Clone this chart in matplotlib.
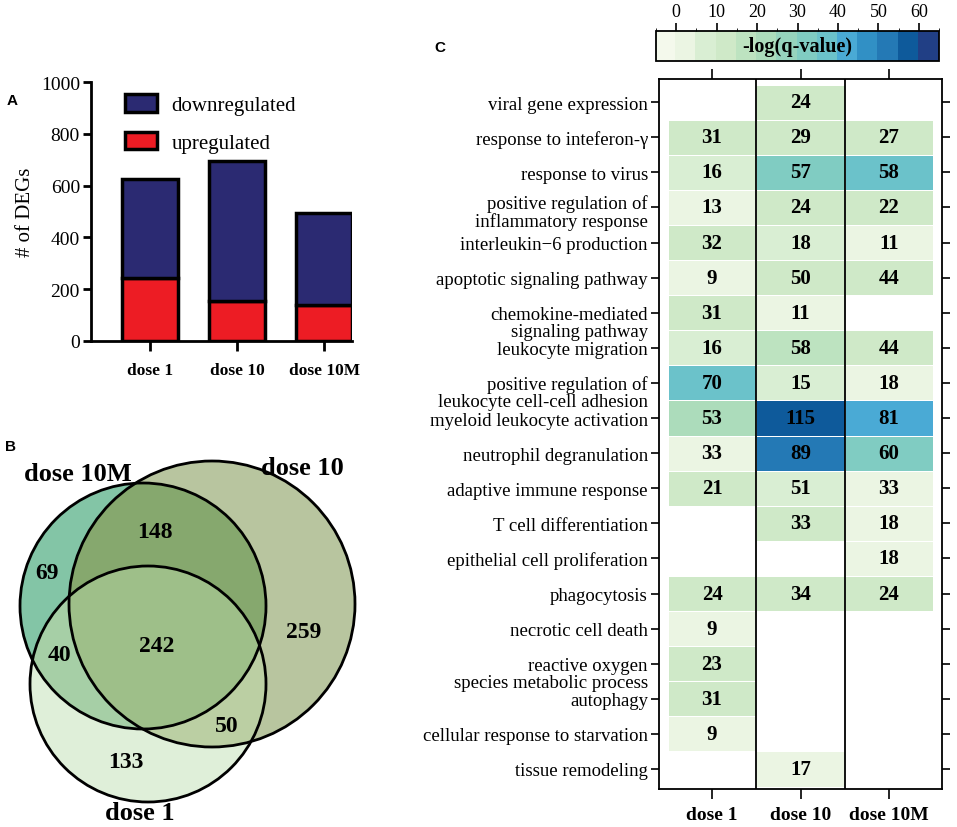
import numpy as np
import matplotlib
matplotlib.use("Agg")
import matplotlib.pyplot as plt
import matplotlib.transforms as mtransforms
from matplotlib.colors import ListedColormap, BoundaryNorm, to_rgb
from matplotlib.patches import Circle

plt.rcParams['font.family'] = ["Liberation Serif", "DejaVu Serif"]
plt.rcParams['mathtext.fontset'] = "dejavuserif"

# ---- panel A data
doses = ["dose 1", "dose 10", "dose 10M"]
up = [245, 155, 140]
total = [625, 695, 495]
down = [t - u for t, u in zip(total, up)]

# ---- panel B data (venn region counts)
venn_sets = ["dose 10M", "dose 10", "dose 1"]
n_10M_only = 69
n_10_only = 259
n_1_only = 133
n_10M_10 = 148
n_10M_1 = 40
n_10_1 = 50
n_all = 242

# ---- panel C data
terms = ["viral gene expression", "response to inteferon-γ", "response to virus",
         "positive regulation of\ninflammatory response", "interleukin\u22126 production",
         "apoptotic signaling pathway", "chemokine-mediated\nsignaling pathway",
         "leukocyte migration", "positive regulation of\nleukocyte cell-cell adhesion",
         "myeloid leukocyte activation", "neutrophil degranulation",
         "adaptive immune response", "T cell differentiation",
         "epithelial cell proliferation", "phagocytosis", "necrotic cell death",
         "reactive oxygen\nspecies metabolic process", "autophagy",
         "cellular response to starvation", "tissue remodeling"]
nan = np.nan
# gene counts shown in the cells
count_d1 = [nan, 31, 16, 13, 32, 9, 31, 16, 70, 53, 33, 21, nan, nan, 24, 9, 23, 31, 9, nan]
count_d10 = [24, 29, 57, 24, 18, 50, 11, 58, 15, 115, 89, 51, 33, nan, 34, nan, nan, nan, nan, 17]
count_d10M = [nan, 27, 58, 22, 11, 44, nan, 44, 18, 81, 60, 33, 18, 18, 24, nan, nan, nan, nan, nan]
# -log(q-value)
logq_d1 = [nan, 12, 7, 3, 12, 3, 10, 8, 37, 22, 3, 12, nan, nan, 10, 3, 10, 12, 3, nan]
logq_d10 = [10, 12, 32, 12, 8, 12, 3, 17, 8, 57, 52, 8, 12, nan, 10, nan, nan, nan, nan, 3]
logq_d10M = [nan, 12, 37, 12, 3, 12, nan, 12, 3, 42, 32, 3, 3, 3, 10, nan, nan, nan, nan, nan]

fig = plt.figure(figsize=(9.57, 8.28), dpi=100)

# overlay in pixel coordinates for the venn diagram and panel letters
ov = fig.add_axes([0, 0, 1, 1])
ov.set_xlim(0, 957)
ov.set_ylim(828, 0)
ov.axis("off")

# ================= A: stacked bars
axA = fig.add_axes([91 / 957, 1 - 342 / 828, 261 / 957, 259 / 828])
x = np.arange(len(doses))
navy = "#2b2a72"
red = "#ed1c24"
axA.bar(x, up, width=0.64, color=red, edgecolor="black", linewidth=2.5, label="upregulated", zorder=3)
axA.bar(x, down, bottom=up, width=0.64, color=navy, edgecolor="black", linewidth=2.5,
        label="downregulated", zorder=3)
axA.set_xlim(-0.68, 2.32)
axA.set_ylim(0, 1000)
axA.set_yticks(range(0, 1001, 200))
axA.set_xticks(x)
axA.set_xticklabels(doses, fontweight="bold", fontsize=12.5)
axA.tick_params(axis="y", labelsize=14, width=2, length=6, pad=2)
axA.tick_params(axis="x", width=2, length=7, pad=8)
for s in ["top", "right"]:
    axA.spines[s].set_visible(False)
for s in ["left", "bottom"]:
    axA.spines[s].set_linewidth(2)
axA.set_ylabel("# of DEGs", fontsize=15, labelpad=4)
h, l = axA.get_legend_handles_labels()
leg = axA.legend(h[::-1], l[::-1], loc="upper left", bbox_to_anchor=(0.06, 1.025), frameon=False,
                 fontsize=15, handlelength=1.5, handleheight=0.9, handletextpad=0.7,
                 labelspacing=0.8)

# ================= B: venn
c10M = (143, 607, 123)
c10 = (212, 605, 143)
c1 = (148, 685, 118)
gx, gy = np.meshgrid(np.arange(0, 380, 0.5), np.arange(440, 828, 0.5))


def inside(c):
    return (gx - c[0]) ** 2 + (gy - c[1]) ** 2 <= c[2] ** 2


a, b, c = inside(c10M), inside(c10), inside(c1)
img = np.ones(gx.shape + (4,))
img[..., 3] = 0
region_cols = [
    (a & ~b & ~c, "#83c5a6"),
    (~a & b & ~c, "#b9c5a0"),
    (~a & ~b & c, "#e0efd9"),
    (a & b & ~c, "#86a86f"),
    (a & ~b & c, "#a6cfa6"),
    (~a & b & c, "#bccfa3"),
    (a & b & c, "#9ebf89"),
]
for m, col in region_cols:
    img[m, :3] = to_rgb(col)
    img[m, 3] = 1
ov.imshow(img, extent=(0, 380, 828, 440), origin="upper", interpolation="bilinear", zorder=1)
for cc in [c10M, c10, c1]:
    ov.add_patch(Circle(cc[:2], cc[2], fill=False, edgecolor="black", linewidth=2, zorder=2))

vfont = dict(fontsize=17, fontweight="bold", ha="center", va="center", zorder=3)
ov.text(155, 533, str(n_10M_10), **vfont)
ov.text(47, 574, str(n_10M_only), **vfont)
ov.text(157, 647, str(n_all), **vfont)
ov.text(59, 656, str(n_10M_1), **vfont)
ov.text(304, 633, str(n_10_only), **vfont)
ov.text(227, 727, str(n_10_1), **vfont)
ov.text(126, 763, str(n_1_only), **vfont)
lfont = dict(fontsize=19, fontweight="bold", ha="center", va="center", zorder=3)
ov.text(78, 475, venn_sets[0], **lfont)
ov.text(302, 469, venn_sets[1], **lfont)
ov.text(140, 814, venn_sets[2], **lfont)

# panel letters
pfont = dict(fontsize=11, fontweight="bold", family="Liberation Sans", ha="center", va="center")
ov.text(12, 101, "A", **pfont)
ov.text(10, 447, "B", **pfont)
ov.text(440, 48, "C", **pfont)

# ================= C: heatmap
bands = ["#f4f9ec", "#ebf5e3", "#d9eed3", "#cfe9c8", "#bde3c0", "#acdcbb", "#96d3bd",
         "#80ccc2", "#6bc2ca", "#4aaad5", "#3190c5", "#2479b5", "#0e5a9b", "#213f85"]
cmap = ListedColormap(bands)
bounds = np.arange(-5, 70, 5)
norm = BoundaryNorm(bounds, cmap.N)

axC = fig.add_axes([659 / 957, 1 - 790 / 828, 283 / 957, 710 / 828])
logq = np.array([logq_d1, logq_d10, logq_d10M]).T
counts = np.array([count_d1, count_d10, count_d10M]).T
nrow = len(terms)
mesh = axC.pcolormesh(np.arange(0.5, 4.0, 1.0), np.arange(-0.5, nrow, 1.0),
                      np.ma.masked_invalid(logq), cmap=cmap, norm=norm,
                      edgecolors="white", linewidth=0.4)
for i in range(nrow):
    for j in range(3):
        if not np.isnan(counts[i, j]):
            axC.text(j + 1, i, f"{int(counts[i, j])}", ha="center", va="center",
                     fontsize=15, fontweight="bold")
axC.axvline(1.5, color="black", lw=1.3)
axC.axvline(2.5, color="black", lw=1.3)
axC.set_xlim(0.4, 3.6)
axC.set_ylim(nrow - 1 + 0.57, -0.66)
axC.set_xticks([1, 2, 3])
axC.set_xticklabels(doses, fontweight="bold", fontsize=14)
axC.set_yticks(range(nrow))
axC.set_yticklabels(terms, fontsize=13.5)
axC.tick_params(axis="y", left=True, right=True, length=6, width=1.2, pad=2)
axC.tick_params(axis="x", top=True, length=7, width=1.2, pad=5)
for s in axC.spines.values():
    s.set_linewidth(1.3)
for lab in axC.get_yticklabels():
    txt = lab.get_text()
    if "\n" in txt:
        lab.set_linespacing(1.0)
        dy = 3 if txt.startswith("positive regulation of\ninfl") else 8
        shift = mtransforms.ScaledTranslation(0, -dy / 100, fig.dpi_scale_trans)
        lab.set_transform(lab.get_transform() + shift)

# colorbar
cax = fig.add_axes([656 / 957, 1 - 62 / 828, 283 / 957, 30 / 828])
cb = fig.colorbar(mesh, cax=cax, orientation="horizontal", ticks=range(0, 61, 10))
cb.ax.xaxis.set_ticks_position("top")
cb.ax.tick_params(labelsize=13, length=6, width=1.2, pad=2)
cb.outline.set_linewidth(1.3)
cb.solids.set_edgecolor("face")
cax.text(30, 0.5, "-log(q-value)", ha="center", va="center", fontsize=14.5, fontweight="bold",
         transform=mtransforms.blended_transform_factory(cax.transData, cax.transAxes))

fig.savefig("out.png", dpi=100)
